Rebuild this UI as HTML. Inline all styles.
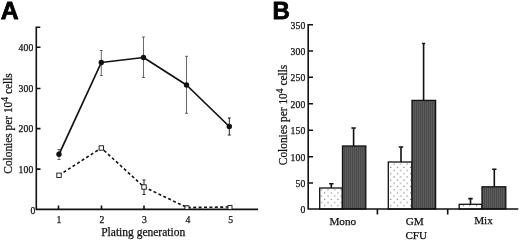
<!DOCTYPE html>
<html><head><meta charset="utf-8">
<style>
html,body{margin:0;padding:0;background:#fff;}
svg{display:block;will-change:transform;}
text{font-family:"Liberation Serif",serif;fill:#111;stroke:#111;stroke-width:0.25px;}
.b{letter-spacing:0;font-family:"Liberation Sans",sans-serif;font-weight:bold;font-size:24.8px;fill:#000;stroke:#000;stroke-width:0.8px;}
.t{font-size:9.7px;letter-spacing:0.15px;}
.l{font-size:11.5px;}
</style></head><body>
<svg width="520" height="240" viewBox="0 0 520 240">
<defs>
<pattern id="dots" x="319.5" y="188" width="6.6" height="6.4" patternUnits="userSpaceOnUse">
<rect x="1.4" y="1.2" width="1.1" height="1.1" fill="#6a6a6a"/>
<rect x="4.7" y="4.4" width="1.1" height="1.1" fill="#6a6a6a"/>
</pattern>
<pattern id="hat" x="0" y="0" width="2" height="4" patternUnits="userSpaceOnUse">
<rect x="0" y="0" width="2" height="4" fill="#5c5c5c"/>
<rect x="0" y="0" width="1" height="4" fill="#4a4a4a"/>
</pattern>
</defs>
<rect width="520" height="240" fill="#fff"/>

<!-- Panel A -->
<text class="b" x="0.8" y="19.4">A</text>
<g stroke="#111" stroke-width="1.6" fill="none">
<path d="M40.3 27.2H36.3V209.4H258"/>
<path d="M36.3 47.3h4.2M36.3 88.5h4.2M36.3 128.6h4.2M36.3 169.1h4.2"/>
<path d="M58.5 209.4v-4M101.5 209.4v-4M144 209.4v-4M187 209.4v-4M230 209.4v-4"/>
</g>
<g class="t" text-anchor="end">
<text x="33.5" y="51.2">400</text>
<text x="33.5" y="92.4">300</text>
<text x="33.5" y="132.4">200</text>
<text x="33.5" y="173.1">100</text>
<text x="35.6" y="214.3">0</text>
</g>
<g class="t" text-anchor="middle">
<text x="58.9" y="222.7">1</text>
<text x="102" y="222.7">2</text>
<text x="144.6" y="222.7">3</text>
<text x="187.9" y="222.7">4</text>
<text x="230.8" y="222.7">5</text>
</g>
<text class="l" x="101.2" y="236.3" textLength="84" lengthAdjust="spacingAndGlyphs">Plating generation</text>
<text class="l" transform="translate(12.3,173.7) rotate(-90)" textLength="100.5" lengthAdjust="spacingAndGlyphs">Colonies per 10<tspan dy="-4" font-size="9.8px">4</tspan><tspan dy="4"> cells</tspan></text>

<!-- error bars A -->
<g stroke="#444" stroke-width="0.8" fill="none">
<path d="M59 149.5V159.5M57.5 149.5h3M57.5 159.5h3"/>
<path d="M101.3 50.5V75.5M99.8 50.5h3M99.8 75.5h3"/>
<path d="M143.5 37V77.5M142 37h3M142 77.5h3"/>
<path d="M186.5 56.3V113.3M185 56.3h3M185 113.3h3"/>
<path d="M229.3 118V135M227.8 118h3M227.8 135h3" stroke="#222" stroke-width="1"/>
<path d="M144 180V194.5M142.5 180h3M142.5 194.5h3" stroke="#222" stroke-width="1"/>
</g>
<!-- lines A -->
<polyline points="59,154.3 101.3,62.5 143.5,57.5 186.5,85 229.3,126.5" fill="none" stroke="#111" stroke-width="1.7" stroke-linejoin="round"/>
<polyline points="59,175.3 101.3,148 144,187 187,207.5 230,207" fill="none" stroke="#111" stroke-width="1.6" stroke-dasharray="3 2.4"/>
<g fill="#111">
<circle cx="59" cy="154.3" r="2.7"/>
<circle cx="101.3" cy="62.5" r="2.7"/>
<circle cx="143.5" cy="57.5" r="2.7"/>
<circle cx="186.5" cy="85" r="2.7"/>
<circle cx="229.3" cy="126.5" r="2.7"/>
</g>
<g fill="#fff" stroke="#111" stroke-width="0.9">
<rect x="56.8" y="173.1" width="4.4" height="4.4"/>
<rect x="99.1" y="145.8" width="4.4" height="4.4"/>
<rect x="141.8" y="184.8" width="4.4" height="4.4"/>
<rect x="185" y="205.8" width="4" height="3.6"/>
<rect x="228" y="205.4" width="4" height="4"/>
</g>

<!-- Panel B -->
<text class="b" x="272.6" y="19" style="font-size:24px">B</text>
<g class="t" text-anchor="end">
<text x="305.5" y="29.1">350</text>
<text x="305.5" y="55.2">300</text>
<text x="305.5" y="81.4">250</text>
<text x="305.5" y="107.9">200</text>
<text x="305.5" y="134.2">150</text>
<text x="305.5" y="160.9">100</text>
<text x="305.5" y="187.2">50</text>
<text x="305.5" y="213.4">0</text>
</g>
<text class="l" transform="translate(287.1,165.2) rotate(-90)" textLength="100.5" lengthAdjust="spacingAndGlyphs">Colonies per 10<tspan dy="-4" font-size="9.8px">4</tspan><tspan dy="4"> cells</tspan></text>

<!-- bars -->
<g stroke="#111" stroke-width="1.3">
<rect x="319.7" y="188" width="22.6" height="21" fill="url(#dots)"/>
<rect x="342.5" y="146" width="23.3" height="63" fill="url(#hat)"/>
<rect x="388.3" y="162" width="23.7" height="47" fill="url(#dots)"/>
<rect x="412" y="100.4" width="23.6" height="108.6" fill="url(#hat)"/>
<rect x="459.2" y="204.3" width="22.8" height="4.7" fill="url(#dots)"/>
<rect x="482" y="186.8" width="23.8" height="22.2" fill="url(#hat)"/>
</g>
<g stroke="#111" stroke-width="1.6" fill="none">
<path d="M331.3 188V183.8M329.1 183.8h4.4"/>
<path d="M353.6 146V128M351.4 128h4.4"/>
<path d="M401 162V147M398.8 147h4.4"/>
<path d="M423.6 100.4V43.5M422 43.5h3.2"/>
<path d="M470.5 204.3V198.6M468.3 198.6h4.4"/>
<path d="M494.3 186.8V169.3M492.1 169.3h4.4"/>
</g>
<g stroke="#111" stroke-width="1.6" fill="none">
<path d="M313 24.7H308.2V209H518.3"/>
<path d="M308.2 51h4.8M308.2 77.3h4.8M308.2 103.8h4.8M308.2 130.2h4.8M308.2 156.8h4.8M308.2 183h4.8"/>
<path d="M377.4 209v5.6M447.7 209v5.6"/>
</g>
<g class="l" text-anchor="middle" style="font-size:11.2px">
<text x="342.8" y="224.5">Mono</text>
<text x="414.7" y="224.6">GM</text>
<text x="416.3" y="238.7">CFU</text>
<text x="483.5" y="224.4">Mix</text>
</g>
</svg>
</body></html>
